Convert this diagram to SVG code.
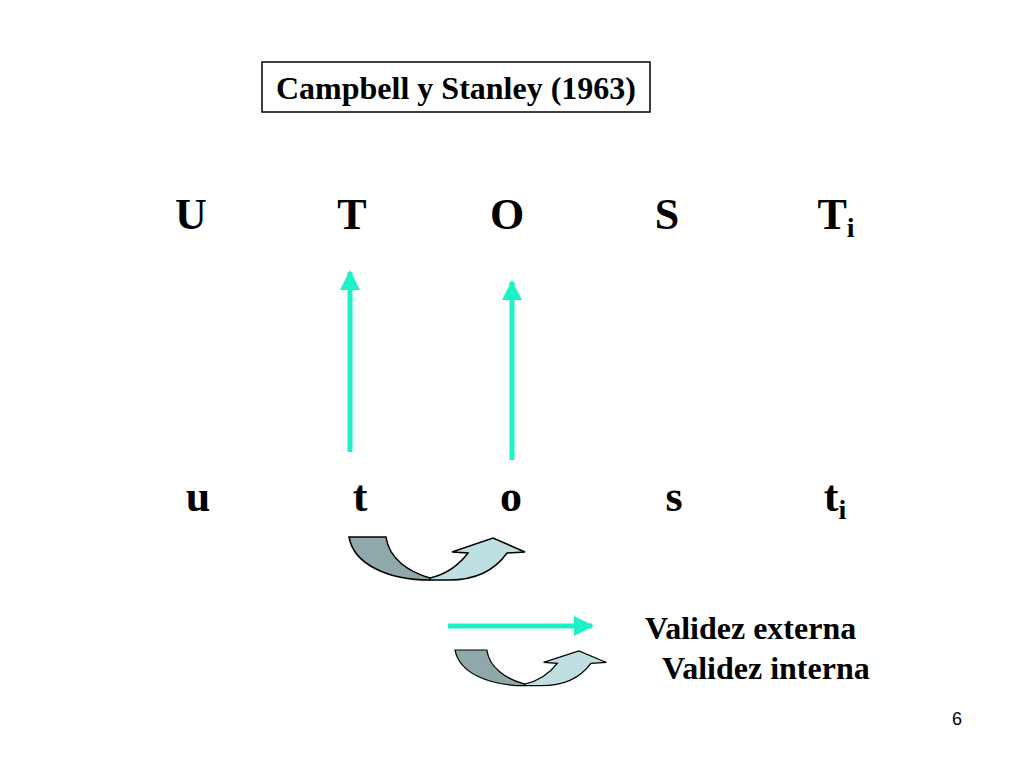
<svg xmlns="http://www.w3.org/2000/svg" width="1024" height="768" viewBox="0 0 1024 768">
<style>
.t{font-family:"Liberation Serif",serif;font-weight:bold;fill:#000}
.big{font-size:44px;text-anchor:middle}
.cy{stroke:#1EF0C8;stroke-width:5;fill:none}
.d{fill:#8FA9AB;stroke:#000;stroke-width:1.5}
.l{fill:#BFE0E3;stroke:#000;stroke-width:1.5}
</style>
<defs>
<marker id="ah" viewBox="0 0 10 10" refX="9" refY="5" markerWidth="4" markerHeight="4" orient="auto" markerUnits="strokeWidth"><path d="M0,0 L10,5 L0,10 Z" fill="#1EF0C8"/></marker>
<g id="curv">
<path class="d" d="M0,0 L37,0 C40,22 60,35 81,41 L81,43 C40,43 5,28 0,0 Z"/>
<path class="l" d="M81,41 C98,37 110,28 119,16 L103,15 L144,1 L176,15 L158,16 C146,33 128,43 100,43 L81,43 Z"/>
</g>
</defs>
<rect width="1024" height="768" fill="#fff"/>
<g id="title"><rect x="262" y="62" width="388" height="50" fill="#fff" stroke="#000" stroke-width="1.5"/>
<text class="t" x="456" y="99" font-size="32" text-anchor="middle">Campbell y Stanley (1963)</text></g>
<g id="upper">
<text class="t big" x="191" y="229">U</text>
<text class="t big" x="352" y="229">T</text>
<text class="t big" x="507" y="229">O</text>
<text class="t big" x="667" y="229">S</text>
<text class="t" x="836" y="229" font-size="44" text-anchor="middle">T<tspan font-size="28" dy="8">i</tspan></text>
</g>
<g id="lower">
<text class="t big" x="198" y="511">u</text>
<text class="t big" x="360" y="511">t</text>
<text class="t big" x="511" y="511">o</text>
<text class="t big" x="674" y="511">s</text>
<text class="t" x="835" y="511" font-size="44" text-anchor="middle">t<tspan font-size="28" dy="8">i</tspan></text>
</g>
<g id="connectors">
<line class="cy" x1="350" y1="452" x2="350" y2="272" marker-end="url(#ah)"/>
<line class="cy" x1="512" y1="460" x2="512" y2="282" marker-end="url(#ah)"/>
<line class="cy" x1="448" y1="626" x2="592" y2="626" marker-end="url(#ah)"/>
<use href="#curv" transform="translate(349,537)"/>
<use href="#curv" transform="translate(455,650) scale(0.86,0.83)"/>
</g>
<g id="legend">
<text class="t" x="645" y="639" font-size="32">Validez externa</text>
<text class="t" x="662" y="679" font-size="32">Validez interna</text>
</g>
<text x="957" y="725" font-family="Liberation Sans,sans-serif" font-size="18" text-anchor="middle">6</text>
</svg>
